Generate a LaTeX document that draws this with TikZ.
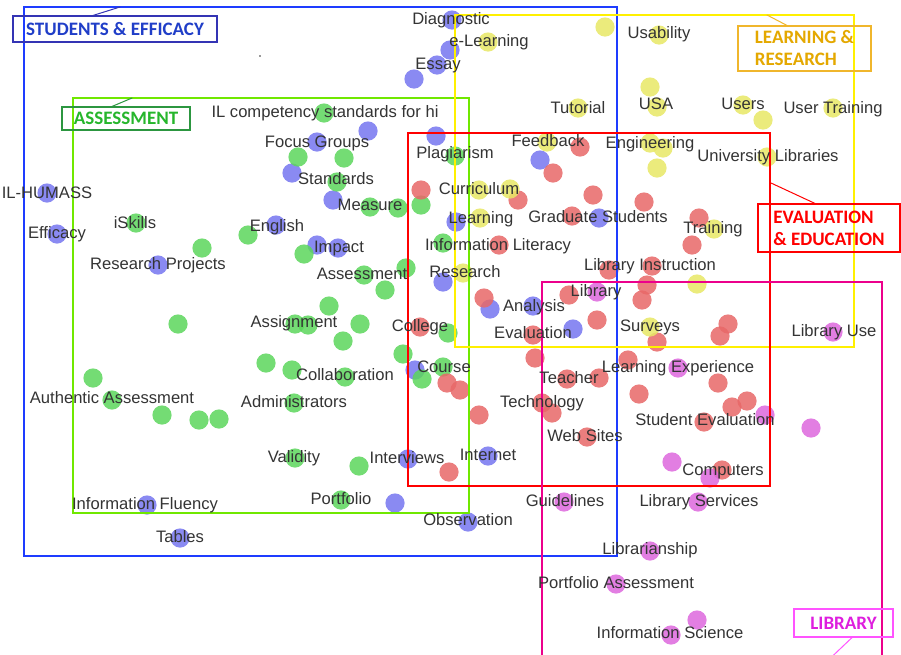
\documentclass[tikz,border=0pt]{standalone}
\usepackage{fontspec}
\setmainfont{Liberation Sans}
\newfontfamily\catfont{Carlito}
\definecolor{dblue}{RGB}{118,118,240}
\definecolor{dgreen}{RGB}{92,214,92}
\definecolor{dred}{RGB}{232,104,104}
\definecolor{dyellow}{RGB}{232,232,102}
\definecolor{dmag}{RGB}{222,104,222}
\definecolor{rblue}{RGB}{30,60,255}
\definecolor{rgreen}{RGB}{112,232,0}
\definecolor{ryellow}{RGB}{255,240,0}
\definecolor{sebox}{RGB}{52,52,180}
\definecolor{setxt}{RGB}{32,62,200}
\definecolor{asbox}{RGB}{44,150,64}
\definecolor{astxt}{RGB}{38,182,44}
\definecolor{lrbox}{RGB}{240,182,44}
\definecolor{lrtxt}{RGB}{228,168,0}
\definecolor{libbox}{RGB}{255,84,255}
\definecolor{libtxt}{RGB}{222,30,222}
\definecolor{txtgray}{RGB}{52,52,52}
\tikzset{
  dotb/.style={fill=dblue, fill opacity=.85},
  dotg/.style={fill=dgreen, fill opacity=.85},
  dotr/.style={fill=dred, fill opacity=.85},
  doty/.style={fill=dyellow, fill opacity=.85},
  dotm/.style={fill=dmag, fill opacity=.85},
  zone/.style={line width=2.2pt},
  lbl/.style={text=txtgray, font=\fontsize{16.6}{16.6}\selectfont, inner sep=0pt, text height=11.9pt, text depth=3.5pt},
  catbox/.style={draw, line width=1.1pt, inner sep=0pt, align=left, font=\catfont\bfseries\fontsize{19}{22}\selectfont},
  leader/.style={line width=1pt}
}
\begin{document}
\begin{tikzpicture}[x=1pt, y=-1pt, line cap=round]
  \clip (0,0) rectangle (901,654);
  \fill[white] (0,0) rectangle (901,654);
  % ── puntos por grupo ──
  \foreach \p in {(452,20),(450,50),(437,65),(414,79),(436,136),(368,131),(317,142),(292,173),(333,200),
    (47,193),(57,234),(158,265),(276,225),(317,245),(338,248),(540,160),(456,222),(599,218),(443,282),
    (490,309),(533,306),(573,329),(415,370),(408,459),(488,456),(395,503),(147,505),(180,538),(468,522)}
    { \fill[dotb] \p circle (9.6pt); }
  \foreach \p in {(324,113),(298,157),(344,158),(337,182),(370,207),(398,208),(421,205),(455,156),(136,223),
    (202,248),(248,235),(304,254),(364,275),(385,290),(406,268),(329,306),(178,324),(295,324),(308,325),
    (360,324),(343,341),(403,354),(266,363),(292,370),(345,377),(93,378),(112,400),(294,403),(162,415),
    (199,420),(219,419),(295,458),(359,466),(341,500),(443,243),(448,333),(443,367),(422,379)}
    { \fill[dotg] \p circle (9.6pt); }
  \foreach \p in {(421,190),(580,147),(553,173),(518,200),(593,195),(644,202),(572,216),(499,245),(699,218),
    (692,245),(609,270),(652,266),(647,285),(642,300),(484,298),(569,295),(597,320),(657,342),(728,324),
    (720,336),(420,327),(533,335),(535,358),(447,383),(460,390),(567,379),(599,378),(628,360),(718,383),
    (639,394),(732,407),(747,401),(704,422),(479,415),(542,403),(552,413),(587,437),(449,472),(722,470)}
    { \fill[dotr] \p circle (9.6pt); }
  \foreach \p in {(488,42),(605,27),(659,35),(650,87),(657,107),(578,108),(743,105),(763,120),(833,108),
    (547,142),(650,143),(663,148),(657,168),(767,157),(479,190),(510,189),(480,218),(463,273),(714,229),
    (697,284),(650,327)}
    { \fill[doty] \p circle (9.6pt); }
  \foreach \p in {(597,292),(833,332),(678,368),(765,415),(811,428),(672,462),(710,478),(564,502),(698,502),
    (650,551),(616,584),(697,620),(671,635)}
    { \fill[dotm] \p circle (9.6pt); }
  \fill[txtgray] (260,56) circle (0.8pt);
  % ── recuadros de los grupos ──
  \draw[zone, rblue]   (24,7)   rectangle (617,556);
  \draw[zone, rgreen]  (73,98)  rectangle (469,513);
  \draw[zone, ryellow] (455,15) rectangle (854,347);
  \draw[zone, red]     (408,133) rectangle (770,486);
  \draw[zone, magenta] (542,282) rectangle (882,700);
  % ── etiquetas de grupo y sus guías ──
  \node[catbox, draw=sebox, text=setxt, minimum width=204pt, minimum height=26pt] (stuLbl) at (115,29) {STUDENTS \& EFFICACY};
  \node[catbox, draw=asbox, text=astxt, minimum width=128pt, minimum height=23pt] (asLbl) at (126,118.5) {ASSESSMENT};
  \node[catbox, draw=lrbox, text=lrtxt, minimum width=133pt, minimum height=45pt] (lrLbl) at (804.5,48.5) {LEARNING \&\\RESEARCH};
  \node[catbox, draw=red, text=red, minimum width=142pt, minimum height=48pt] (evLbl) at (829,228) {EVALUATION\\\& EDUCATION};
  \node[catbox, draw=libbox, text=libtxt, minimum width=99pt, minimum height=28pt] (libLbl) at (843.5,623) {LIBRARY};
  \coordinate (stuTip) at (120,7);
  \coordinate (asTip)  at (132,98);
  \coordinate (lrTip)  at (767,15);
  \coordinate (evTip)  at (771,183);
  \coordinate (libTip) at (820,668);
  \draw[leader, sebox]  ([xshift=-22pt]stuLbl.north) -- (stuTip);
  \draw[leader, asbox]  ([xshift=-14pt]asLbl.north) -- (asTip);
  \draw[leader, lrbox]  ([xshift=-17.5pt]lrLbl.north) -- (lrTip);
  \draw[leader, red]    ([xshift=-14pt]evLbl.north) -- (evTip);
  \draw[leader, libbox] ([xshift=8.5pt]libLbl.south) -- (libTip);
  % ── términos ──
  \foreach \n/\x/\y/\t in {
    diagnostic/451/20/Diagnostic, elearning/489/42/e-Learning, essay/438/65/Essay,
    usability/659/34/Usability, tutorial/578/109/Tutorial, usa/656/105/USA, users/743/105/Users,
    usertraining/833/109/User Training, feedback/548/142/Feedback, engineering/650/144/Engineering,
    unilib/768/157/University Libraries, plagiarism/455/154/Plagiarism, curriculum/479/190/Curriculum,
    learning/481/219/Learning, gradstud/598/218/Graduate Students, infolit/498/246/Information Literacy,
    research/465/273/Research, training/713/229/Training, libinstr/650/266/Library Instruction,
    library/596/292/Library, analysis/534/307/Analysis, evaluation/533/334/Evaluation,
    surveys/650/327/Surveys, libuse/834/332/Library Use, college/420/327/College, course/444/368/Course,
    teacher/569/379/Teacher, learnexp/678/368/Learning Experience, technology/542/403/Technology,
    studeval/705/421/Student Evaluation, websites/585/437/Web Sites, internet/488/456/Internet,
    computers/723/471/Computers, interviews/407/459/Interviews, guidelines/565/502/Guidelines,
    libserv/699/502/Library Services, observation/468/521/Observation, librarianship/650/550/Librarianship,
    portassess/616/584/Portfolio Assessment, infosci/670/634/Information Science,
    ilcomp/325/113/IL competency standards for hi, focus/317/143/Focus Groups, standards/336/180/Standards,
    measure/370/206/Measure, ilhumass/47/194/IL-HUMASS, iskills/135/224/iSkills, efficacy/57/234/Efficacy,
    english/277/227/English, impact/339/248/Impact, resproj/158/265/Research Projects,
    assessment/362/275/Assessment, assignment/294/323/Assignment, collab/345/376/Collaboration,
    authassess/112/399/Authentic Assessment, admin/294/403/Administrators, validity/294/458/Validity,
    portfolio/341/500/Portfolio, infofluency/145/505/Information Fluency, tables/180/538/Tables}
    { \node[lbl] (\n) at (\x,\y) {\t}; }
\end{tikzpicture}
\end{document}
